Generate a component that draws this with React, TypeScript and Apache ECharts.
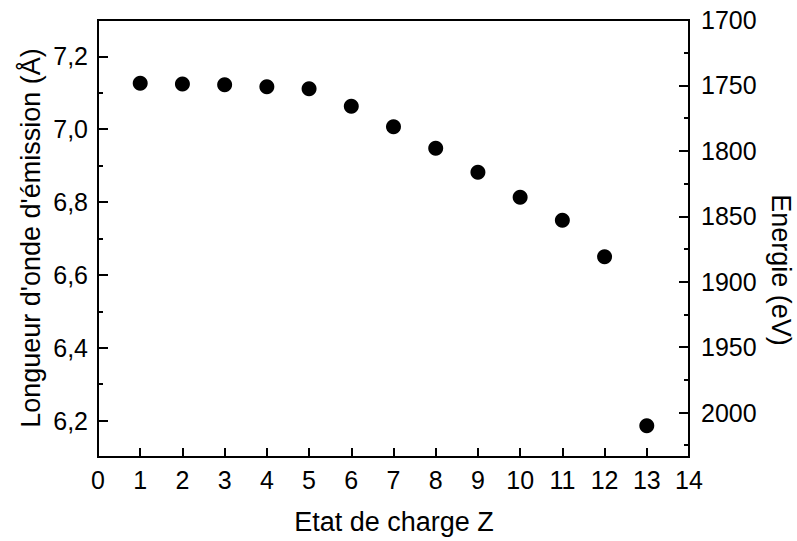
import React, { useEffect, useRef } from "react";
import * as echarts from "echarts";

// ---- data ----
const chargeStates = [1, 2, 3, 4, 5, 6, 7, 8, 9, 10, 11, 12, 13];
const wavelengths = [7.126, 7.124, 7.122, 7.117, 7.111, 7.063, 7.007, 6.948, 6.882, 6.813, 6.75, 6.65, 6.186];
const xRange = [0, 14];
const wlRange = [6.1, 7.3];
const energyRange = [1700, 2034];
const xTitle = "Etat de charge Z";
const leftTitle = "Longueur d'onde d'émission (Å)";
const rightTitle = "Energie (eV)";

const FONT = "'Liberation Sans', Arial, Helvetica, sans-serif";
const TICK_FS = 25;
const TITLE_FS = 27;

export default function App() {
  const ref = useRef<HTMLDivElement>(null);
  useEffect(() => {
    if (!ref.current) return;
    const chart = echarts.init(ref.current, undefined, { renderer: "svg" });
    const line = { show: true, lineStyle: { color: "#000", width: 2 } };
    const label = { color: "#000", fontSize: TICK_FS, fontFamily: FONT };
    const option: any = {
      animation: false,
      backgroundColor: "#fff",
      grid: {
        left: 98,
        top: 20,
        width: 591,
        height: 437,
        show: true,
        borderColor: "#000",
        borderWidth: 2,
        backgroundColor: "transparent",
      },
      xAxis: [
        {
          type: "value",
          min: xRange[0],
          max: xRange[1],
          interval: 1,
          axisLine: { ...line, onZero: false },
          axisTick: { show: true, inside: true, length: 9, lineStyle: { color: "#000", width: 2 } },
          axisLabel: { ...label, margin: 10 },
          splitLine: { show: false },
        },
      ],
      yAxis: [
        {
          type: "value",
          min: wlRange[0],
          max: wlRange[1],
          interval: 0.1,
          position: "left",
          axisLine: { ...line, onZero: false },
          axisTick: { show: true, inside: true, length: 5, lineStyle: { color: "#000", width: 2 } },
          axisLabel: {
            ...label,
            margin: 10,
            showMinLabel: false,
            showMaxLabel: false,
            formatter: (v: number) => (Math.round(v * 10) % 2 === 0 ? v.toFixed(1).replace(".", ",") : ""),
          },
          splitLine: { show: false },
        },
        {
          type: "value",
          min: wlRange[0],
          max: wlRange[1],
          position: "left",
          axisLine: { show: false },
          axisTick: { show: true, inside: true, length: 10, lineStyle: { color: "#000", width: 2 } },
          axisLabel: { show: false },
          splitLine: { show: false },
        },
        {
          type: "value",
          min: energyRange[0],
          max: energyRange[1],
          interval: 25,
          inverse: true,
          position: "right",
          axisLine: { ...line, onZero: false },
          axisTick: { show: true, inside: true, length: 5, lineStyle: { color: "#000", width: 2 } },
          axisLabel: {
            ...label,
            margin: 12,
            showMaxLabel: false,
            formatter: (v: number) => (Math.round(v) % 50 === 0 ? String(v) : ""),
          },
          splitLine: { show: false },
        },
        {
          type: "value",
          min: energyRange[0],
          max: energyRange[1],
          interval: 50,
          inverse: true,
          position: "right",
          axisLine: { show: false },
          axisTick: { show: true, inside: true, length: 10, lineStyle: { color: "#000", width: 2 } },
          axisLabel: { show: false },
          splitLine: { show: false },
        },
      ],
      graphic: [
        {
          type: "text",
          x: 394,
          y: 522,
          style: { text: xTitle, fontSize: TITLE_FS, fontFamily: FONT, fill: "#000", textAlign: "center", textVerticalAlign: "middle" },
        },
        {
          type: "text",
          x: 31,
          y: 238,
          rotation: Math.PI / 2,
          style: { text: leftTitle, fontSize: TITLE_FS, fontFamily: FONT, fill: "#000", textAlign: "center", textVerticalAlign: "middle" },
        },
        {
          type: "text",
          x: 781,
          y: 270,
          rotation: -Math.PI / 2,
          style: { text: rightTitle, fontSize: TITLE_FS, fontFamily: FONT, fill: "#000", textAlign: "center", textVerticalAlign: "middle" },
        },
      ],
      series: [
        {
          type: "scatter",
          xAxisIndex: 0,
          yAxisIndex: 0,
          symbol: "circle",
          symbolSize: 15,
          itemStyle: { color: "#000", opacity: 1 },
          z: 10,
          data: chargeStates.map((z, i) => [z, wavelengths[i]]),
        },
      ],
    };
    chart.setOption(option);
    return () => chart.dispose();
  }, []);
  return (
    <div
      ref={ref}
      style={{ position: "fixed", left: 0, top: 0, width: 797, height: 541, background: "#fff" }}
    />
  );
}
